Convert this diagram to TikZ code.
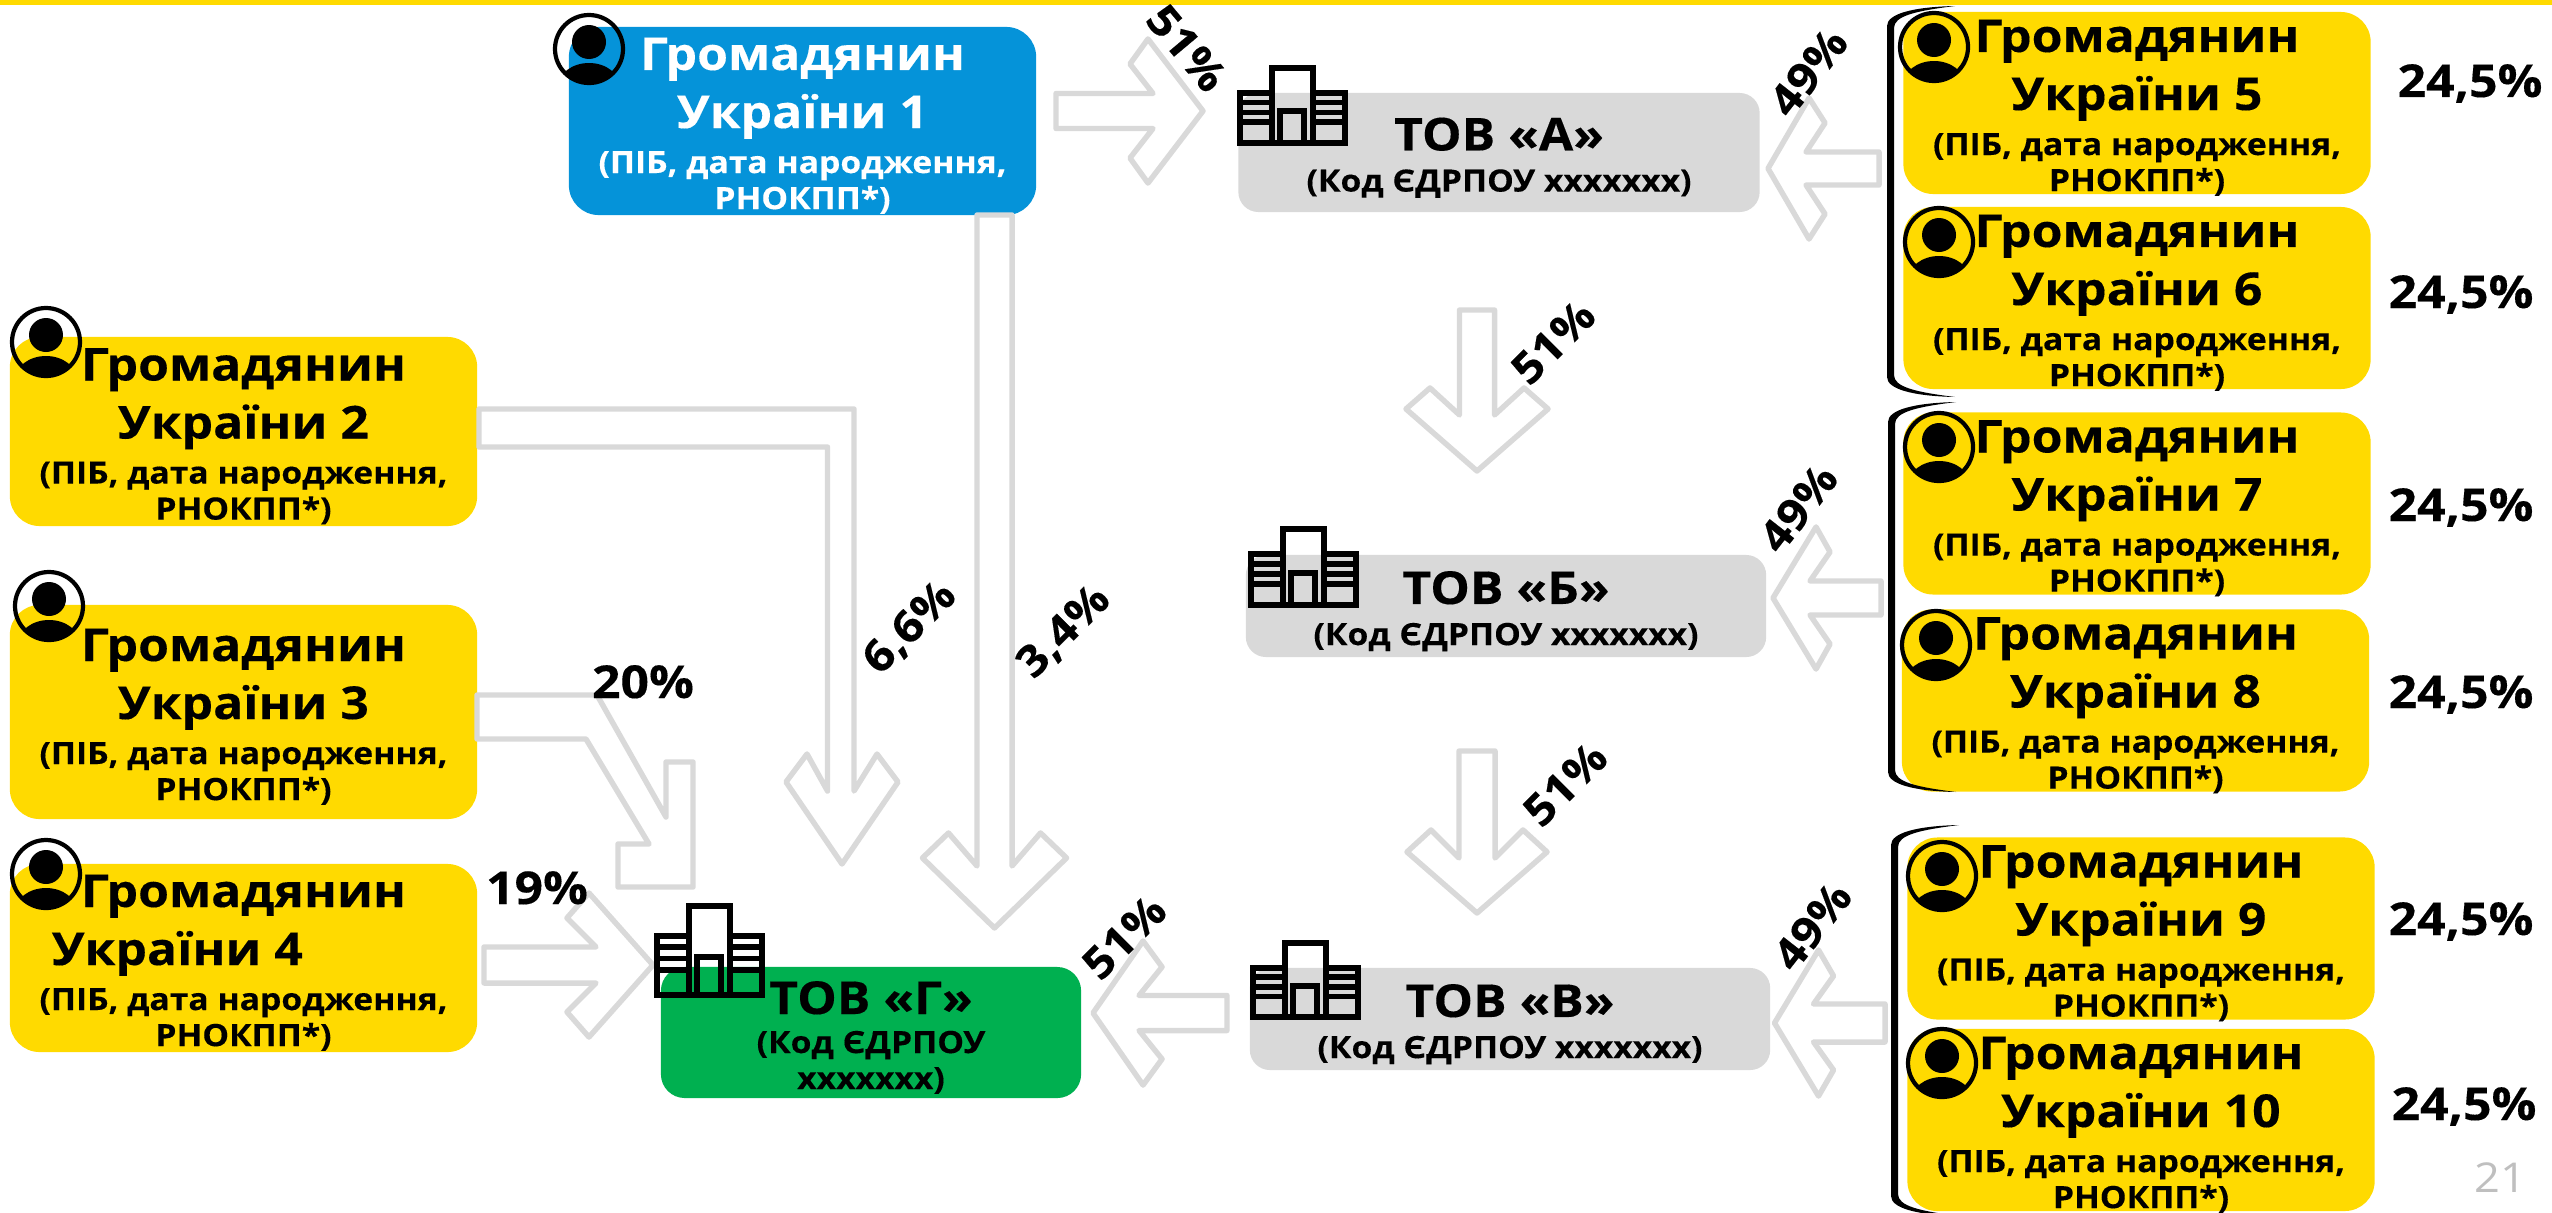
\documentclass[tikz,border=0pt]{standalone}
\usepackage{fontspec}
\usetikzlibrary{calc}
\newfontfamily\mont[FakeStretch=1.1,BoldFeatures={FakeBold=0.25}]{Open Sans}
\definecolor{citgold}{HTML}{FFDA00}
\definecolor{citblue}{HTML}{0593D9}
\definecolor{tovgreen}{HTML}{00B050}
\definecolor{tovgray}{HTML}{D9D9D9}
\definecolor{pagegray}{HTML}{BFBFBF}
\newcommand{\basefont}{\mont\bfseries\fontsize{12.9}{10.24}\selectfont\lineskiplimit=-100pt\relax}
\newcommand{\namefont}{\fontsize{12.9}{10.24}\selectfont}
\newcommand{\infofont}{\fontsize{8.7}{10.24}\selectfont}
\newcommand{\cittext}[2][0pt]{\rule{0pt}{11.38pt}{\namefont Громадянин}\\[6.26pt]{\namefont України #2}\rule{#1}{0pt}\\[2.56pt]{\infofont (ПІБ, дата народження,}\\\smash{\infofont РНОКПП*)}\rule[-0.85pt]{0pt}{0pt}}
\newcommand{\tovtext}[1]{\rule{0pt}{11.95pt}{\namefont ТОВ «#1»}\\[1.44pt]\smash{\infofont (Код ЄДРПОУ xxxxxxx)}\rule[-1.42pt]{0pt}{0pt}}
\newcommand{\grouprule}[3]{\fill (#1+68,#2) .. controls (#1+25,#2+1) and (#1,#2+8) .. (#1,#2+20) -- (#1,#3-20) .. controls (#1,#3-8) and (#1+25,#3-1) .. (#1+68,#3) .. controls (#1+28,#3-5) and (#1+7,#3-10) .. (#1+7,#3-22) -- (#1+7,#2+22) .. controls (#1+7,#2+10) and (#1+28,#2+5) .. cycle;}
\tikzset{
  citizen/.style={fill=citgold,rounded corners=8.5pt,minimum width=4.67cm,inner sep=0pt,align=center,font=\basefont},
  tov/.style={fill=tovgray,rounded corners=5.7pt,inner sep=0pt,align=center,font=\basefont},
  share/.style={font=\basefont,inner sep=0pt,anchor=base},
  tilted/.style={font=\mont\bfseries\fontsize{12.3}{14}\selectfont,inner sep=0pt},
  arrowline/.style={draw=tovgray,line width=1.55pt,line join=round},
  blockarrow/.style n args={6}{arrowline,to path={
    ($(\tikztostart)!#1*0.2845pt!90:(\tikztotarget)$)
    -- ($(\tikztotarget)!#2*0.2845pt!(\tikztostart)!#1*0.2845pt!-90:(\tikztostart)$)
    -- ($(\tikztotarget)!#3*0.2845pt!(\tikztostart)!#4*0.2845pt!-90:(\tikztostart)$)
    -- ($(\tikztotarget)!#5*0.2845pt!(\tikztostart)!#6*0.2845pt!-90:(\tikztostart)$)
    -- (\tikztotarget)
    -- ($(\tikztotarget)!#5*0.2845pt!(\tikztostart)!#6*0.2845pt!90:(\tikztostart)$)
    -- ($(\tikztotarget)!#3*0.2845pt!(\tikztostart)!#4*0.2845pt!90:(\tikztostart)$)
    -- ($(\tikztotarget)!#2*0.2845pt!(\tikztostart)!#1*0.2845pt!90:(\tikztostart)$)
    -- ($(\tikztostart)!#1*0.2845pt!-90:(\tikztotarget)$) -- cycle}},
  person/.pic={
    \begin{scope}
      \clip (0,0) circle[radius=35];
      \fill (0,38) ellipse[x radius=31,y radius=24];
    \end{scope}
    \fill (0,-7) circle[radius=17];
    \draw[line width=1.2pt] (0,0) circle[radius=34];
  },
  building/.pic={
    \draw[line width=1.7pt] (35,34.5) -- (2.5,34.5) -- (2.5,96.5) -- (107.5,96.5) -- (107.5,34.5) -- (76,34.5);
    \draw[line width=1.7pt] (35,96.5) -- (35,3.5) -- (76,3.5) -- (76,96.5);
    \draw[line width=1.7pt] (43,96.5) -- (43,57) -- (67,57) -- (67,96.5);
    \draw[line width=1.6pt] (2.5,46.5) -- (35,46.5) (2.5,58.5) -- (35,58.5) (2.5,70.5) -- (35,70.5);
    \draw[line width=1.6pt] (76,46.5) -- (107.5,46.5) (76,58.5) -- (107.5,58.5) (76,70.5) -- (107.5,70.5);
  }
}
\begin{document}
\begin{tikzpicture}[x=0.01cm,y=-0.01cm]
\useasboundingbox (0,0) rectangle (2552,1212);

\fill[citgold] (0,0) rectangle (2552,5);

% owners
\node[citizen,fill=citblue,text=white,minimum height=1.88cm] (cit1) at (802.5,121) {\cittext{1}};
\node[citizen,minimum height=1.89cm] (cit2) at (243.5,431.5) {\cittext{2}};
\node[citizen,minimum height=2.14cm] (cit3) at (243.5,712) {\cittext{3}};
\node[citizen,minimum height=1.88cm] (cit4) at (243.5,958) {\cittext[37.6pt]{4}};
\node[citizen,minimum height=1.80cm] (cit5) at (2137,103) {\cittext{5}};
\node[citizen,minimum height=1.80cm] (cit6) at (2137,298) {\cittext{6}};
\node[citizen,minimum height=1.80cm] (cit7) at (2137,503.5) {\cittext{7}};
\node[citizen,minimum height=1.81cm] (cit8) at (2135.5,700.5) {\cittext{8}};
\node[citizen,minimum height=1.81cm] (cit9) at (2141,928.5) {\cittext{9}};
\node[citizen,minimum height=1.80cm] (cit10) at (2141,1120) {\cittext{10}};

% companies
\node[tov,minimum width=5.21cm,minimum height=1.19cm] (tova) at (1499,152.5) {\tovtext{А}};
\node[tov,minimum width=5.20cm,minimum height=1.02cm] (tovb) at (1506,606) {\tovtext{Б}};
\node[tov,minimum width=5.20cm,minimum height=1.02cm] (tovv) at (1510,1019) {\tovtext{В}};
\node[tov,fill=tovgreen,rounded corners=6.8pt,minimum width=4.20cm,minimum height=1.31cm] (tovg) at (871,1032.5) {\rule{0pt}{12.23pt}{\namefont ТОВ «Г»}\\[0.85pt]{\infofont (Код ЄДРПОУ}\\[0pt]\smash{\infofont xxxxxxx)}\rule[-1.42pt]{0pt}{0pt}};

% free ends of the block arrows
\coordinate (a1s) at (1056,111);
\coordinate (a1t) at (1203,111);
\coordinate (a2s) at (1879,168.5);
\coordinate (a2t) at (1768,168.5);
\coordinate (a3s) at (1477,310);
\coordinate (a3t) at (1477,471);
\coordinate (a4s) at (1881,598);
\coordinate (a4t) at (1773,598);
\coordinate (a5s) at (1477,751);
\coordinate (a5t) at (1477,913);
\coordinate (a6s) at (1885,1023);
\coordinate (a6t) at (1774.5,1023);
\coordinate (a7s) at (1227,1013);
\coordinate (a7t) at (1093,1013);
\coordinate (a8s) at (994.5,215);
\coordinate (a8t) at (994.5,928);
\coordinate (a9s) at (484,965);
\coordinate (a9t) at (653,965);
\coordinate (a10s) at (479,428);
\coordinate (a10t) at (842,864);
\coordinate (a11s) at (477,717);
\coordinate (a11t) at (693,887);

\draw[blockarrow={17.5}{50}{73}{47}{55}{72}] (a1s) to (a1t);
\draw[blockarrow={16.5}{38}{57}{45.5}{41}{70.5}] (a2s) to (a2t);
\draw[blockarrow={17.5}{56}{83}{47}{62}{71}] (a3s) to (a3t);
\draw[blockarrow={17}{37}{57}{46}{43}{71}] (a4s) to (a4t);
\draw[blockarrow={18}{55}{83}{46}{61}{70}] (a5s) to (a5t);
\draw[blockarrow={19}{39}{59}{47}{44}{73}] (a6s) to (a6t);
\draw[blockarrow={17.5}{46}{69}{46}{50}{72}] (a7s) to (a7t);
\draw[blockarrow={17.5}{62}{95}{46}{70}{72}] (a8s) to (a8t);
\draw[blockarrow={18}{57}{86}{47}{64}{72}] (a9s) to (a9t);
\draw[arrowline] (a10s) -- (479,409) -- (854,409) -- (854,791) -- (877,754) -- (898,782) -- (a10t) -- (786,782) -- (807,754) -- (827.5,791) -- (827.5,447) -- (479,447) -- cycle;
\draw[arrowline] (a11s) -- (477,695) -- (597,695) -- (666,817) -- (666,762) -- (693,762) -- (a11t) -- (618,887) -- (618,844) -- (649,844) -- (586,739) -- (477,739) -- cycle;

% brackets
\grouprule{1887}{6}{397}
\grouprule{1888}{402}{792}
\grouprule{1891}{825}{1216}

% icons
\pic at (589,49) {person};
\pic at (46,342) {person};
\pic at (49,606) {person};
\pic at (46,874) {person};
\pic at (1934,47) {person};
\pic at (1939,242) {person};
\pic at (1939,447) {person};
\pic at (1936,645) {person};
\pic at (1942,876) {person};
\pic at (1942,1063) {person};
\pic[yscale=.81] at (1237,65) {building};
\pic[yscale=.82] at (1248,526) {building};
\pic[yscale=.80] at (1250,940) {building};
\pic[yscale=.95] at (654,903) {building};

% shares
\node[share] (s5) at (2470,97) {24,5\%};
\node[share] (s6) at (2461,308) {24,5\%};
\node[share] (s7) at (2461,521) {24,5\%};
\node[share] (s8) at (2461,708) {24,5\%};
\node[share] (s9) at (2461,935) {24,5\%};
\node[share] (s10) at (2464,1120) {24,5\%};
\node[share] (s3) at (643,698) {20\%};
\node[share] (s4) at (537,904) {19\%};
\node[tilted,rotate=45] (s2) at (910,628) {6,6\%};
\node[tilted,rotate=45] (s1) at (1064,632) {3,4\%};
\node[tilted,rotate=-50] (ta1) at (1187,48) {51\%};
\node[tilted,rotate=52] (ta2) at (1808,72) {49\%};
\node[tilted,rotate=45] (tb1) at (1553,342) {51\%};
\node[tilted,rotate=52] (tb2) at (1798,508) {49\%};
\node[tilted,rotate=45] (tv1) at (1565,784) {51\%};
\node[tilted,rotate=52] (tv2) at (1812,926) {49\%};
\node[tilted,rotate=45] (tg1) at (1124,937) {51\%};

\node[text=pagegray,inner sep=0pt,font=\mont\fontsize{11.7}{14}\selectfont] (page) at (2500,1178) {21};

\end{tikzpicture}
\end{document}
